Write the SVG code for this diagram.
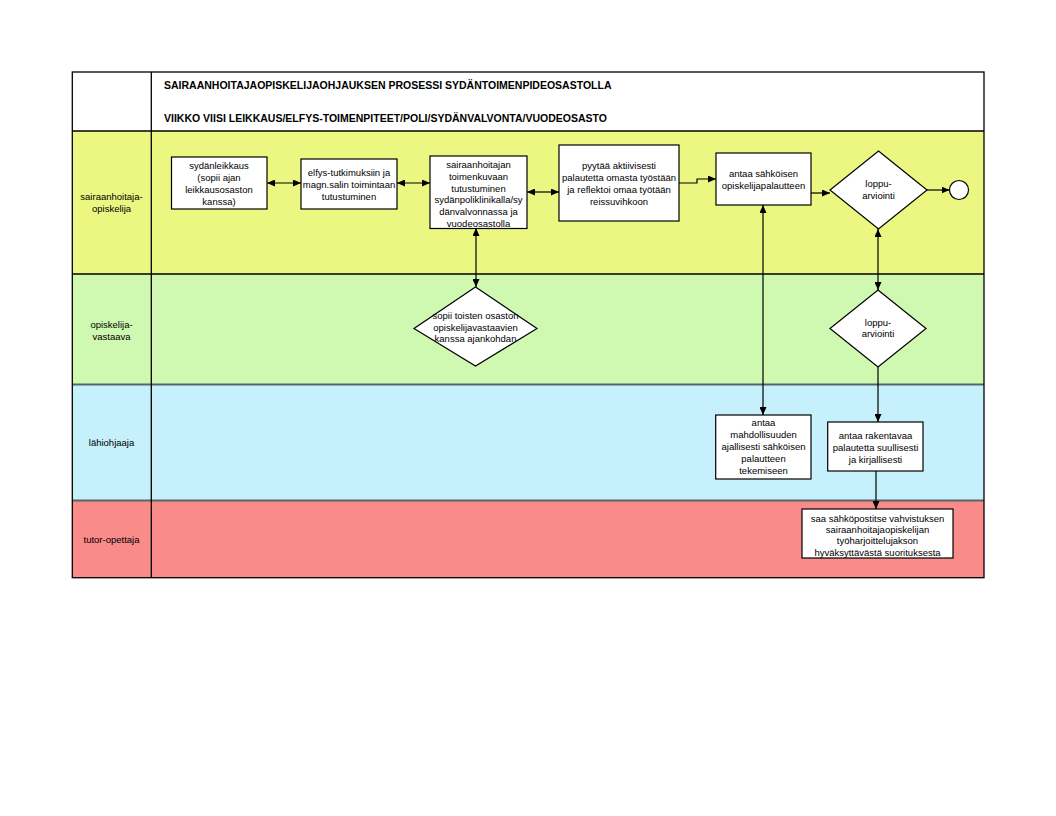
<svg xmlns="http://www.w3.org/2000/svg" width="1056" height="816" viewBox="0 0 1056 816">
<style>
text{font-family:"Liberation Sans",Arial,sans-serif;font-size:9.5px;fill:#000;text-anchor:middle}
.h{font-weight:bold;font-size:10.5px;text-anchor:start}
.box{fill:#fff;stroke:#000;stroke-width:1.2}
.c{fill:none;stroke:#000;stroke-width:1.2}
.b{stroke:#000;stroke-width:1.3;fill:none}
.g{stroke:#5a6468;stroke-width:2;fill:none}
</style>
<defs>
<marker id="a" viewBox="0 0 8 7" refX="8" refY="3.5" markerWidth="8" markerHeight="7" markerUnits="userSpaceOnUse" orient="auto-start-reverse"><path d="M0,0 L8,3.5 L0,7 z" fill="#000"/></marker>
</defs>
<rect width="1056" height="816" fill="#fff"/>
<g id="lanes">
<rect x="72" y="72" width="912" height="59" fill="#fff"/>
<rect x="72" y="131" width="912" height="143" fill="#EBF781"/>
<rect x="72" y="274" width="912" height="110.5" fill="#CFF9B0"/>
<rect x="72" y="384.5" width="912" height="116" fill="#C5F0FC"/>
<rect x="72" y="500.5" width="912" height="77.5" fill="#F98B88"/>
<line class="b" x1="72" y1="131" x2="984" y2="131"/>
<line class="b" x1="72" y1="274" x2="984" y2="274"/>
<line class="g" x1="72" y1="384.5" x2="984" y2="384.5"/>
<line class="g" x1="72" y1="500.5" x2="984" y2="500.5"/>
<line class="b" x1="151.3" y1="72" x2="151.3" y2="578"/>
<rect class="b" x="72.3" y="72" width="911.7" height="505.7"/>
<text class="h" x="164" y="89.2">SAIRAANHOITAJAOPISKELIJAOHJAUKSEN PROSESSI SYDÄNTOIMENPIDEOSASTOLLA</text>
<text class="h" x="164" y="121.8">VIIKKO VIISI LEIKKAUS/ELFYS-TOIMENPITEET/POLI/SYDÄNVALVONTA/VUODEOSASTO</text>
<text x="111.5" y="200.4">sairaanhoitaja-</text>
<text x="111.5" y="212.4">opiskelija</text>
<text x="111.5" y="328.4">opiskelija-</text>
<text x="111.5" y="339.9">vastaava</text>
<text x="111.5" y="446.4">lähiohjaaja</text>
<text x="111.5" y="543.4">tutor-opettaja</text>
</g>
<g id="connectors">
<line class="c" x1="267" y1="183" x2="301" y2="183" marker-start="url(#a)" marker-end="url(#a)"/>
<line class="c" x1="397" y1="183" x2="430" y2="183" marker-start="url(#a)" marker-end="url(#a)"/>
<line class="c" x1="527" y1="192" x2="559" y2="192" marker-start="url(#a)" marker-end="url(#a)"/>
<polyline class="c" points="679,183 697,183 697,179 716,179" marker-end="url(#a)"/>
<line class="c" x1="811" y1="193" x2="830" y2="193" marker-end="url(#a)"/>
<line class="c" x1="927" y1="190" x2="949.5" y2="190" marker-end="url(#a)"/>
<line class="c" x1="476" y1="228" x2="476" y2="287" marker-start="url(#a)" marker-end="url(#a)"/>
<line class="c" x1="763" y1="205" x2="763" y2="415" marker-start="url(#a)" marker-end="url(#a)"/>
<line class="c" x1="878" y1="229" x2="878" y2="290" marker-start="url(#a)" marker-end="url(#a)"/>
<line class="c" x1="878" y1="367" x2="878" y2="422" marker-end="url(#a)"/>
<line class="c" x1="876" y1="471" x2="876" y2="509" marker-end="url(#a)"/>
</g>
<g id="n1">
<rect class="box" x="171.5" y="157" width="95.5" height="52"/>
<text x="219" y="169.4">sydänleikkaus</text>
<text x="219" y="181.4">(sopii ajan</text>
<text x="219" y="193.4">leikkausosaston</text>
<text x="219" y="205.4">kanssa)</text>
</g>
<g id="n2">
<rect class="box" x="301" y="159" width="96" height="50"/>
<text x="349" y="176.4">elfys-tutkimuksiin ja</text>
<text x="349" y="188.4">magn.salin toimintaan</text>
<text x="349" y="200">tutustuminen</text>
</g>
<g id="n3">
<rect class="box" x="430" y="156" width="97" height="72.5"/>
<text x="478.5" y="168.4">sairaanhoitajan</text>
<text x="478.5" y="180">toimenkuvaan</text>
<text x="478.5" y="191.6">tutustuminen</text>
<text x="478.5" y="203.4">sydänpoliklinikalla/sy</text>
<text x="478.5" y="215.2">dänvalvonnassa ja</text>
<text x="478.5" y="226.8">vuodeosastolla</text>
</g>
<g id="n4">
<rect class="box" x="559" y="145" width="120" height="76"/>
<text x="619" y="169.4">pyytää aktiivisesti</text>
<text x="619" y="181.4">palautetta omasta työstään</text>
<text x="619" y="193.4">ja reflektoi omaa työtään</text>
<text x="619" y="205.4">reissuvihkoon</text>
</g>
<g id="n5">
<rect class="box" x="716" y="153" width="95" height="52"/>
<text x="763.5" y="177.4">antaa sähköisen</text>
<text x="763.5" y="189.4">opiskelijapalautteen</text>
</g>
<g id="n6">
<polygon class="box" points="878.5,151 927,190 878.5,229 830,190"/>
<text x="878.5" y="187.4">loppu-</text>
<text x="878.5" y="199.4">arviointi</text>
</g>
<g id="n7">
<circle class="box" cx="959" cy="190" r="9.5"/>
</g>
<g id="n8">
<polygon class="box" points="475.5,287 537,328.5 475.5,366 414,328.5"/>
<text x="475.5" y="319.4">sopii toisten osaston</text>
<text x="475.5" y="330.9">opiskelijavastaavien</text>
<text x="475.5" y="342.4">kanssa ajankohdan</text>
</g>
<g id="n9">
<polygon class="box" points="878,290 926,328.5 878,367 830,328.5"/>
<text x="878" y="325.8">loppu-</text>
<text x="878" y="337.4">arviointi</text>
</g>
<g id="n10">
<rect class="box" x="715.7" y="415" width="95.3" height="64"/>
<text x="763.5" y="426.4">antaa</text>
<text x="763.5" y="438.4">mahdollisuuden</text>
<text x="763.5" y="450.4">ajallisesti sähköisen</text>
<text x="763.5" y="462.4">palautteen</text>
<text x="763.5" y="474.4">tekemiseen</text>
</g>
<g id="n11">
<rect class="box" x="827.7" y="422" width="95.3" height="49"/>
<text x="875.5" y="439.1">antaa rakentavaa</text>
<text x="875.5" y="451">palautetta suullisesti</text>
<text x="875.5" y="462.9">ja kirjallisesti</text>
</g>
<g id="n12">
<rect class="box" x="802" y="509" width="151" height="49"/>
<text x="877.5" y="521.9">saa sähköpostitse vahvistuksen</text>
<text x="877.5" y="533.2">sairaanhoitajaopiskelijan</text>
<text x="877.5" y="544.4">työharjoittelujakson</text>
<text x="877.5" y="555.7">hyväksyttävästä suorituksesta</text>
</g>
</svg>
